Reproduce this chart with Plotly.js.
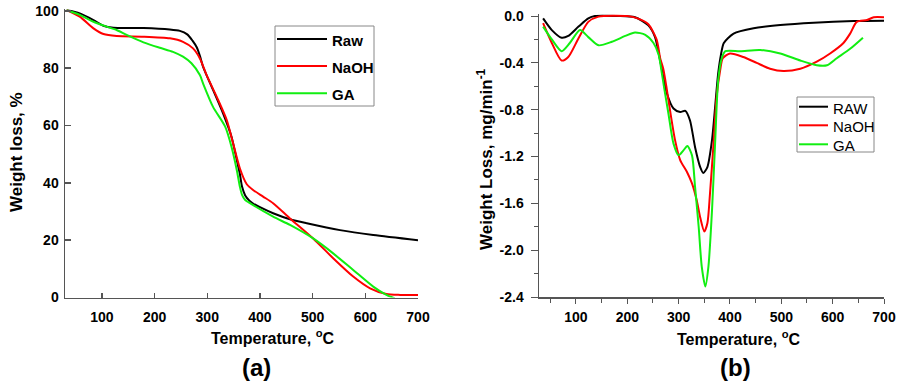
<!DOCTYPE html>
<html>
<head>
<meta charset="utf-8">
<script src="https://cdn.plot.ly/plotly-3.0.1.min.js"></script>
<style>html,body{margin:0;padding:0;background:#fff;}#chart{width:899px;height:383px;}</style>
</head>
<body>
<div id="chart"></div>
<script>
// ---- Panel (a): TGA weight loss ----
const tRawA = [33, 58, 84, 103, 122, 179, 229, 248, 262, 272, 280, 286, 292, 311, 330, 346, 356, 362, 366, 372, 380, 387, 400, 425, 457, 489, 552, 615, 700];
const wRawA = [100.3, 99.1, 96.8, 94.8, 94.1, 94.0, 93.5, 93.0, 91.8, 89.6, 87.3, 84.3, 80.5, 72.4, 64.2, 56.1, 48.0, 43.0, 38.7, 35.6, 33.8, 32.8, 31.5, 29.4, 27.3, 25.9, 23.5, 21.8, 20.0];
const tNaOHA = [33, 58, 84, 103, 128, 179, 229, 254, 273, 286, 299, 318, 337, 349, 362, 375, 387, 406, 425, 457, 501, 539, 577, 609, 640, 666, 700];
const wNaOHA = [100.3, 98.0, 93.9, 91.9, 91.2, 91.0, 90.4, 89.2, 86.9, 83.4, 77.5, 70.0, 61.9, 53.8, 45.0, 39.5, 37.5, 35.2, 32.9, 27.6, 20.6, 13.7, 7.3, 3.2, 1.2, 0.9, 0.9];
const tGAA = [33, 58, 84, 109, 128, 147, 179, 210, 235, 254, 270, 286, 292, 311, 334, 346, 356, 362, 366, 372, 381, 425, 457, 501, 539, 577, 615, 640, 656];
const wGAA = [100.3, 98.6, 96.2, 94.5, 93.3, 91.6, 89.0, 87.1, 85.7, 84.0, 81.7, 77.6, 74.7, 66.5, 59.6, 52.6, 44.5, 38.6, 35.8, 34.0, 32.9, 28.2, 25.3, 20.6, 15.4, 9.6, 3.8, 0.9, -0.3];

// ---- Panel (b): DTG ----
const tRawB = [36, 53, 72, 85, 105, 124, 137, 180, 215, 241, 254, 264, 277, 290, 303, 313, 322, 332, 342, 348, 356, 365, 371, 377, 382, 388, 407, 446, 498, 563, 641, 700];
const dRawB = [-0.02, -0.12, -0.185, -0.17, -0.09, -0.02, 0.0, 0.0, -0.01, -0.08, -0.18, -0.38, -0.66, -0.79, -0.82, -0.81, -0.89, -1.12, -1.29, -1.34, -1.29, -1.06, -0.78, -0.49, -0.34, -0.23, -0.15, -0.105, -0.077, -0.057, -0.043, -0.04];
const tNaOHB = [36, 53, 72, 85, 105, 124, 144, 200, 220, 241, 257, 264, 270, 276, 283, 293, 303, 316, 326, 335, 342, 350, 356, 361, 368, 374, 381, 386, 400, 426, 452, 478, 504, 537, 569, 595, 621, 634, 647, 667, 680, 700];
const dNaOHB = [-0.06, -0.23, -0.38, -0.35, -0.19, -0.05, -0.005, 0.0, -0.02, -0.07, -0.2, -0.36, -0.45, -0.6, -0.8, -1.06, -1.23, -1.33, -1.43, -1.57, -1.72, -1.84, -1.77, -1.52, -1.09, -0.69, -0.46, -0.36, -0.32, -0.35, -0.40, -0.45, -0.47, -0.45, -0.39, -0.32, -0.23, -0.15, -0.05, -0.034, -0.01, -0.01];
const tGAB = [36, 53, 72, 88, 108, 124, 144, 170, 196, 215, 235, 251, 261, 267, 272, 280, 290, 300, 309, 317, 326, 332, 339, 345, 352, 358, 365, 371, 377, 384, 391, 420, 459, 498, 537, 569, 589, 608, 634, 659];
const dGAB = [-0.09, -0.2, -0.3, -0.23, -0.12, -0.18, -0.25, -0.22, -0.17, -0.14, -0.16, -0.23, -0.33, -0.48, -0.62, -0.83, -1.09, -1.19, -1.15, -1.11, -1.19, -1.46, -1.80, -2.14, -2.31, -2.14, -1.66, -1.09, -0.55, -0.36, -0.30, -0.30, -0.29, -0.32, -0.38, -0.42, -0.42, -0.36, -0.28, -0.185];

const legendA = ["Raw", "NaOH", "GA"];
const legendB = ["RAW", "NaOH", "GA"];
const colors = ["#000000", "#ff0000", "#11ee11"];

const W = 899, H = 383;
const px = x => x / W;
const py = y => 1 - y / H;

function tr(x, y, c, xa, ya) {
  return {x: x, y: y, type: 'scatter', mode: 'lines', xaxis: xa, yaxis: ya,
    line: {color: c, width: 2, shape: 'spline', smoothing: 0.7}, showlegend: false, hoverinfo: 'skip'};
}

const data = [
  tr(tRawA, wRawA, colors[0], 'x', 'y'),
  tr(tNaOHA, wNaOHA, colors[1], 'x', 'y'),
  tr(tGAA, wGAA, colors[2], 'x', 'y'),
  tr(tRawB, dRawB, colors[0], 'x2', 'y2'),
  tr(tNaOHB, dNaOHB, colors[1], 'x2', 'y2'),
  tr(tGAB, dGAB, colors[2], 'x2', 'y2')
];

const fam = '"Liberation Sans", Arial, sans-serif';
const tickF = {family: fam, size: 14, color: '#000', weight: 'bold'};
const axCol = '#555';

const shapes = [];
const annotations = [];

function ann(x, y, text, size, weight, opts) {
  return Object.assign({xref: 'paper', yref: 'paper', x: px(x), y: py(y), xanchor: 'center', yanchor: 'middle', showarrow: false,
    text: text, font: {family: fam, size: size, color: '#000', weight: weight}}, opts || {});
}

// legend (a)
shapes.push({type: 'rect', xref: 'paper', yref: 'paper', x0: px(275), x1: px(374), y0: py(26), y1: py(106), line: {color: '#888', width: 1}});
[39, 66, 93.3].forEach((y, i) => {
  shapes.push({type: 'line', xref: 'paper', yref: 'paper', x0: px(277), x1: px(327), y0: py(y), y1: py(y), line: {color: colors[i], width: 2}});
  annotations.push(ann(330, y + 1.5, legendA[i], 15, 'bold', {xanchor: 'left'}));
});
// legend (b)
shapes.push({type: 'rect', xref: 'paper', yref: 'paper', x0: px(797), x1: px(874), y0: py(97), y1: py(152), line: {color: '#888', width: 1}});
[106.7, 125.3, 144.3].forEach((y, i) => {
  shapes.push({type: 'line', xref: 'paper', yref: 'paper', x0: px(799), x1: px(828), y0: py(y), y1: py(y), line: {color: colors[i], width: 2}});
  annotations.push(ann(831, y + 1.5, legendB[i], 15, 'normal', {xanchor: 'left'}));
});

// axis titles & panel labels
annotations.push(ann(272, 337, 'Temperature, <sup>o</sup>C', 16, 'bold'));
annotations.push(ann(738, 338, 'Temperature, <sup>o</sup>C', 16, 'bold'));
annotations.push(ann(16, 152, 'Weight loss, %', 17, 'bold', {textangle: -90}));
annotations.push(ann(485, 159, 'Weight Loss, mg/min<sup>-1</sup>', 17, 'bold', {textangle: -90}));
annotations.push(ann(256, 367, '(a)', 24, 'bold'));
annotations.push(ann(735, 367, '(b)', 24, 'bold'));

const layout = {
  width: W, height: H,
  margin: {l: 0, r: 0, t: 0, b: 0},
  paper_bgcolor: '#fff', plot_bgcolor: '#fff',
  showlegend: false,
  xaxis: {domain: [px(65), px(418)], range: [30, 700], anchor: 'y',
    tickvals: [100, 200, 300, 400, 500, 600, 700], ticks: 'inside', ticklen: 5, tickwidth: 1.5, tickcolor: axCol,
    showline: true, linecolor: axCol, linewidth: 1.5, showgrid: false, zeroline: false, tickfont: tickF, ticklabelstandoff: 6},
  yaxis: {domain: [py(297.5), py(9.4)], range: [0, 100.5], anchor: 'x',
    tickvals: [0, 20, 40, 60, 80, 100], ticks: 'inside', ticklen: 6, tickwidth: 1.5, tickcolor: axCol,
    showline: true, linecolor: axCol, linewidth: 1.5, showgrid: false, zeroline: false, tickfont: tickF, ticklabelstandoff: 2},
  xaxis2: {domain: [px(539), px(884)], range: [28, 700], anchor: 'y2',
    tickvals: [100, 200, 300, 400, 500, 600, 700], ticks: 'outside', ticklen: 5, tickwidth: 1, tickcolor: axCol,
    minor: {tickvals: [50, 150, 250, 350, 450, 550, 650], ticks: 'outside', ticklen: 4, tickwidth: 1, tickcolor: axCol},
    showline: true, linecolor: axCol, linewidth: 1.5, showgrid: false, zeroline: false, tickfont: tickF, ticklabelstandoff: 2},
  yaxis2: {domain: [py(297), py(13.7)], range: [-2.4, 0.02], anchor: 'x2',
    tickvals: [-2.4, -2.0, -1.6, -1.2, -0.8, -0.4, 0.0], ticktext: ['-2.4', '-2.0', '-1.6', '-1.2', '-0.8', '-0.4', '0.0'],
    ticks: 'outside', ticklen: 7, tickwidth: 1, tickcolor: axCol,
    minor: {tickvals: [-2.2, -1.8, -1.4, -1.0, -0.6, -0.2], ticks: 'outside', ticklen: 4, tickwidth: 1, tickcolor: axCol},
    showline: true, linecolor: axCol, linewidth: 1.5, showgrid: false, zeroline: false, tickfont: tickF, ticklabelstandoff: 4},
  shapes: shapes,
  annotations: annotations
};

Plotly.newPlot('chart', data, layout, {staticPlot: true, displayModeBar: false});
</script>
</body>
</html>
